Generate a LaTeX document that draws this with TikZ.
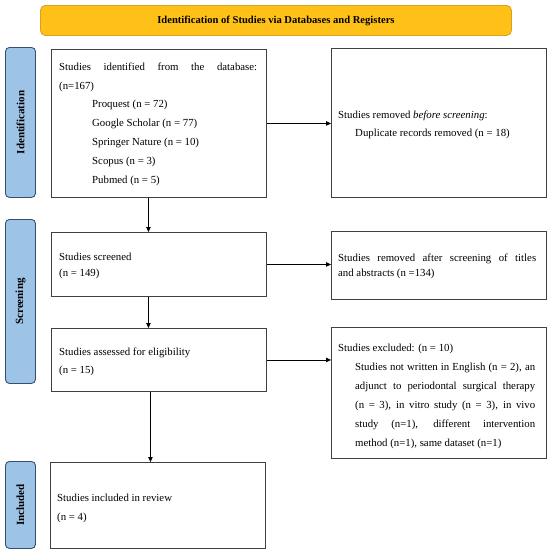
\documentclass[tikz,border=0pt]{standalone}
\usepackage{fontspec}
\setmainfont{Liberation Serif}
\usetikzlibrary{arrows.meta}
\definecolor{boxline}{HTML}{404040}
\definecolor{banfill}{HTML}{FFC118}
\definecolor{banline}{HTML}{D9A21E}
\definecolor{stfill}{HTML}{9DC3E6}
\definecolor{stline}{HTML}{34506E}
\begin{document}
\begin{tikzpicture}[x=1pt,y=-1pt,
  box/.style={draw=boxline, line width=0.9pt, fill=white, anchor=north west, inner sep=0pt, minimum width=215pt},
  stage/.style={draw=stline, fill=stfill, line width=0.9pt, rounded corners=4pt, anchor=north west, inner sep=0pt, minimum width=30pt},
  stagetext/.style={rotate=90, font=\bfseries\fontsize{11}{13}\selectfont, inner sep=0pt},
  txt/.style={anchor=north west, inner sep=0pt, align=left},
  conn/.style={draw=black, line width=0.8pt, -{Triangle[length=5pt,width=4.5pt]}}
]
\useasboundingbox (0,0) rectangle (550,554);
\fill[white] (0,0) rectangle (550,554);

% title banner
\node[draw=banline, fill=banfill, line width=0.9pt, rounded corners=5pt, minimum width=471pt, minimum height=30pt, anchor=north west, inner sep=0pt,
      font=\bfseries\fontsize{10.6}{12}\selectfont] (title) at (40,5) {Identification of Studies via Databases and Registers};

% stage labels
\node[stage, minimum height=150pt] (idl) at (5,47) {};
\node[stagetext] (idlt) at (idl.center) {Identification};
\node[stage, minimum height=164pt] (scl) at (5,219) {};
\node[stagetext] (sclt) at (scl.center) {Screening};
\node[stage, minimum height=87pt] (inl) at (5,461) {};
\node[stagetext] (inlt) at (inl.center) {Included};

% boxes
\node[box, minimum height=148pt] (b1) at (51,49) {};
\node[box, minimum height=149pt] (r1) at (331,48) {};
\node[box, minimum height=64pt] (b2) at (51,232) {};
\node[box, minimum height=68pt] (r2) at (331,231) {};
\node[box, minimum height=63pt] (b3) at (51,328) {};
\node[box, minimum height=131pt] (r3) at (331,327) {};
\node[box, minimum height=86pt] (b4) at (50,462) {};

% texts
\node[txt, font=\fontsize{10.8}{18.8}\selectfont] (t1) at (59,62.5) {%
\makebox[198pt][s]{Studies identified from the database:}\\
(n=167)\\
\hspace*{33pt}Proquest (n = 72)\\
\hspace*{33pt}Google Scholar (n = 77)\\
\hspace*{33pt}Springer Nature (n = 10)\\
\hspace*{33pt}Scopus (n = 3)\\
\hspace*{33pt}Pubmed (n = 5)};

\node[txt, font=\fontsize{10.8}{17.3}\selectfont] (tr1) at (338,111) {%
Studies removed \textit{before screening}:\\
\hspace*{17pt}Duplicate records removed (n = 18)};

\node[txt, font=\fontsize{10.8}{16.7}\selectfont] (t2) at (59,252.5) {%
Studies screened\\
(n = 149)};

\node[txt, font=\fontsize{10.8}{15}\selectfont] (tr2) at (338,253.2) {%
\makebox[198pt][s]{Studies removed after screening of titles}\\
and abstracts (n =134)};

\node[txt, font=\fontsize{10.8}{18.3}\selectfont] (t3) at (59,347.5) {%
Studies assessed for eligibility\\
(n = 15)};

\node[txt, font=\fontsize{10.8}{19}\selectfont] (tr3) at (338,344) {%
Studies excluded: (n = 10)\\
\hspace*{17pt}\makebox[180pt][s]{Studies not written in English (n = 2), an}\\
\hspace*{17pt}\makebox[180pt][s]{adjunct to periodontal surgical therapy}\\
\hspace*{17pt}\makebox[180pt][s]{(n = 3), in vitro study (n = 3), in vivo}\\
\hspace*{17pt}\makebox[180pt][s]{study (n=1), different intervention}\\
\hspace*{17pt}method (n=1), same dataset (n=1)};

\node[txt, font=\fontsize{10.8}{19}\selectfont] (t4) at (57,494) {%
Studies included in review\\
(n = 4)};

% connectors
\draw[conn] (b1.east) -- (b1.east -| r1.west);
\draw[conn] (b2.east) -- (b2.east -| r2.west);
\draw[conn] (b3.east) -- (b3.east -| r3.west);
\draw[conn] ([xshift=-10.5pt]b1.south) -- ([xshift=-10.5pt]b1.south |- b2.north);
\draw[conn] ([xshift=-10.5pt]b2.south) -- ([xshift=-10.5pt]b2.south |- b3.north);
\draw[conn] ([xshift=-8.5pt]b3.south) -- ([xshift=-8.5pt]b3.south |- b4.north);
\end{tikzpicture}
\end{document}
